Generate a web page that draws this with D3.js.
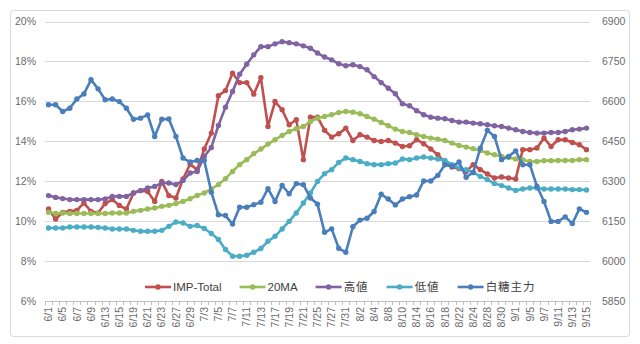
<!DOCTYPE html>
<html>
<head>
<meta charset="utf-8">
<script src="https://cdn.jsdelivr.net/npm/d3@7"></script>
<style>
  body { margin: 0; background: #fff; }
  svg text { font-family: "Liberation Sans", "Noto Sans CJK JP", sans-serif; }
</style>
</head>
<body>
<svg id="chart" width="640" height="344"></svg>
<script>
// trading days, 2017
var dates = ['6/1','6/2','6/5','6/6','6/7','6/8','6/9','6/12','6/13','6/14','6/15','6/16','6/19','6/20',
  '6/21','6/22','6/23','6/26','6/27','6/28','6/29','6/30','7/3','7/4','7/5','7/6','7/7','7/10','7/11',
  '7/12','7/13','7/14','7/17','7/18','7/19','7/20','7/21','7/24','7/25','7/26','7/27','7/28','7/31',
  '8/1','8/2','8/3','8/4','8/7','8/8','8/9','8/10','8/11','8/14','8/15','8/16','8/17','8/18','8/21',
  '8/22','8/23','8/24','8/25','8/28','8/29','8/30','8/31','9/1','9/4','9/5','9/6','9/7','9/8','9/11',
  '9/12','9/13','9/14','9/15'];

var impTotal = [10.61,10.11,10.44,10.49,10.54,10.91,10.49,10.41,10.88,11.08,10.78,10.61,11.41,11.53,
  11.49,10.99,11.99,11.28,11.16,12.11,12.85,12.58,13.61,14.41,16.28,16.54,17.41,16.94,16.94,16.36,
  17.19,14.74,15.99,15.58,14.83,15.08,13.08,15.21,15.21,14.55,14.21,14.38,14.66,14.04,14.33,14.21,
  14.04,13.99,14.04,13.91,13.74,13.78,14.08,13.88,13.61,13.33,12.91,12.71,12.63,12.49,12.83,12.58,
  12.36,12.16,12.21,12.16,12.11,13.58,13.58,13.66,14.16,13.74,14.08,14.08,13.94,13.83,13.58];

var ma20 = [10.44,10.38,10.41,10.38,10.38,10.38,10.38,10.38,10.38,10.41,10.41,10.41,10.49,10.54,
  10.61,10.66,10.74,10.79,10.88,10.99,11.12,11.29,11.41,11.61,11.83,12.13,12.49,12.83,13.08,13.38,
  13.61,13.86,14.08,14.29,14.49,14.63,14.74,14.99,15.16,15.24,15.33,15.44,15.49,15.46,15.38,15.24,
  15.11,14.94,14.78,14.61,14.49,14.44,14.33,14.24,14.16,14.11,14.04,13.91,13.79,13.71,13.63,13.54,
  13.41,13.33,13.24,13.19,13.11,13.08,12.99,12.99,13.03,13.03,13.04,13.04,13.04,13.08,13.08];

var high = [11.28,11.19,11.13,11.08,11.08,11.08,11.08,11.08,11.11,11.24,11.24,11.24,11.41,11.53,
  11.66,11.74,11.91,11.91,11.83,12.04,12.41,12.49,13.24,13.69,14.79,15.71,16.49,17.36,17.86,18.33,
  18.74,18.74,18.88,18.99,18.94,18.88,18.78,18.66,18.42,18.22,18.08,17.88,17.78,17.83,17.74,17.58,
  17.24,16.94,16.66,16.38,15.88,15.78,15.53,15.33,15.21,15.16,15.13,15.04,14.96,14.96,14.91,14.88,
  14.83,14.78,14.74,14.66,14.58,14.49,14.44,14.41,14.41,14.44,14.44,14.49,14.58,14.61,14.66];

var low = [9.66,9.66,9.66,9.71,9.71,9.71,9.71,9.69,9.66,9.61,9.61,9.61,9.54,9.49,9.49,9.49,9.54,
  9.74,9.96,9.91,9.74,9.78,9.63,9.38,9.08,8.58,8.24,8.24,8.29,8.44,8.63,8.99,9.24,9.61,9.99,10.41,
  10.91,11.41,11.99,12.38,12.58,12.94,13.16,13.08,12.99,12.88,12.83,12.83,12.88,12.91,13.11,13.08,
  13.16,13.21,13.16,13.11,13.04,12.83,12.66,12.58,12.44,12.24,12.08,11.88,11.78,11.66,11.54,11.61,
  11.66,11.66,11.61,11.61,11.61,11.61,11.58,11.58,11.56];

var sugar = [6587,6587,6562,6574,6609,6628,6681,6647,6606,6609,6599,6574,6533,6537,6549,6468,6533,
  6534,6468,6387,6372,6378,6378,6259,6174,6171,6139,6202,6202,6212,6221,6272,6224,6284,6253,6291,
  6287,6237,6214,6108,6121,6048,6033,6129,6154,6161,6186,6251,6233,6211,6233,6242,6248,6301,6301,
  6322,6362,6356,6372,6315,6333,6424,6491,6468,6381,6393,6414,6362,6362,6281,6224,6149,6149,6166,
  6141,6196,6183];

var leftTicks = [0.06, 0.08, 0.10, 0.12, 0.14, 0.16, 0.18, 0.20];
var rightTicks = [5850, 6000, 6150, 6300, 6450, 6600, 6750, 6900];

var seriesNames = ['IMP-Total', '20MA', '高値', '低値', '白糖主力'];
var seriesColors = ['#c0504d', '#9bbb59', '#8064a2', '#4bacc6', '#4a7ebb'];

var svg = d3.select('#chart');

svg.append('rect')
  .attr('x', 10.5).attr('y', 10.5).attr('width', 619).attr('height', 326)
  .attr('rx', 3).attr('fill', '#fff').attr('stroke', '#d9d9d9');

var x = d3.scaleBand().domain(dates).range([45, 590]);
var yL = d3.scaleLinear().domain([0.06, 0.20]).range([301, 21.5]);
var yR = d3.scaleLinear().domain([5850, 6900]).range([301, 21.5]);

// gridlines
svg.append('g')
  .selectAll('line')
  .data(leftTicks)
  .join('line')
  .attr('x1', 45).attr('x2', 590)
  .attr('y1', function(d) { return Math.round(yL(d)) + 0.5; })
  .attr('y2', function(d) { return Math.round(yL(d)) + 0.5; })
  .attr('stroke', function(d) { return d === 0.06 ? '#bfbfbf' : '#d9d9d9'; })
  .attr('stroke-width', 1);

// left axis
var axisL = svg.append('g')
  .attr('transform', 'translate(45,0)')
  .call(d3.axisLeft(yL).tickValues(leftTicks).tickFormat(d3.format('.0%')).tickSize(0).tickPadding(9));
axisL.select('.domain').remove();
axisL.selectAll('text').attr('fill', '#6b6b6b').attr('font-size', 10.5);

// right axis
var axisR = svg.append('g')
  .attr('transform', 'translate(590,0)')
  .call(d3.axisRight(yR).tickValues(rightTicks).tickFormat(d3.format('d')).tickSize(0).tickPadding(12));
axisR.select('.domain').remove();
axisR.selectAll('text').attr('fill', '#6b6b6b').attr('font-size', 10.5);

// category ticks
svg.append('g')
  .selectAll('line')
  .data(dates.concat(['end']))
  .join('line')
  .attr('x1', function(d, i) { return Math.round(45 + i * x.step()) + 0.5; })
  .attr('x2', function(d, i) { return Math.round(45 + i * x.step()) + 0.5; })
  .attr('y1', 301).attr('y2', 305)
  .attr('stroke', '#bfbfbf');

// bottom axis labels, every other day
var axisB = svg.append('g')
  .attr('transform', 'translate(0,301)')
  .call(d3.axisBottom(x).tickValues(dates.filter(function(d, i) { return i % 2 === 0; })).tickSize(0));
axisB.select('.domain').remove();
axisB.selectAll('text')
  .attr('transform', 'rotate(-90)')
  .attr('x', -6).attr('y', 0).attr('dy', '0.35em')
  .attr('text-anchor', 'end')
  .attr('fill', '#6b6b6b').attr('font-size', 10.5);

var cx = function(d, i) { return x(dates[i]) + x.bandwidth() / 2; };

function drawSeries(values, color, scale) {
  var g = svg.append('g');
  var line = d3.line()
    .x(cx)
    .y(function(d) { return scale(d); });
  g.append('path')
    .datum(values)
    .attr('d', line)
    .attr('fill', 'none')
    .attr('stroke', color)
    .attr('stroke-width', 2.6)
    .attr('stroke-linejoin', 'round');
  g.selectAll('circle')
    .data(values)
    .join('circle')
    .attr('cx', cx)
    .attr('cy', function(d) { return scale(d); })
    .attr('r', 2.7)
    .attr('fill', color);
}

var pct = function(arr) { return arr.map(function(v) { return v / 100; }); };
drawSeries(pct(impTotal), seriesColors[0], yL);
drawSeries(pct(ma20), seriesColors[1], yL);
drawSeries(pct(high), seriesColors[2], yL);
drawSeries(pct(low), seriesColors[3], yL);
drawSeries(sugar, seriesColors[4], yR);

// legend
var legend = svg.append('g').attr('transform', 'translate(0,287)');
var lx = 145;
seriesNames.forEach(function(name, i) {
  var item = legend.append('g').attr('transform', 'translate(' + lx + ',0)');
  item.append('line')
    .attr('x1', 0).attr('x2', 26).attr('y1', 0).attr('y2', 0)
    .attr('stroke', seriesColors[i]).attr('stroke-width', 2.6);
  item.append('circle').attr('cx', 13).attr('cy', 0).attr('r', 2.7).attr('fill', seriesColors[i]);
  var t = item.append('text')
    .attr('x', 28).attr('y', 0).attr('dy', '0.36em')
    .attr('fill', '#404040').attr('font-size', 11.5)
    .attr('letter-spacing', i >= 2 ? 1 : 0)
    .text(name);
  lx += 28 + t.node().getComputedTextLength() + 18;
});
</script>
</body>
</html>
